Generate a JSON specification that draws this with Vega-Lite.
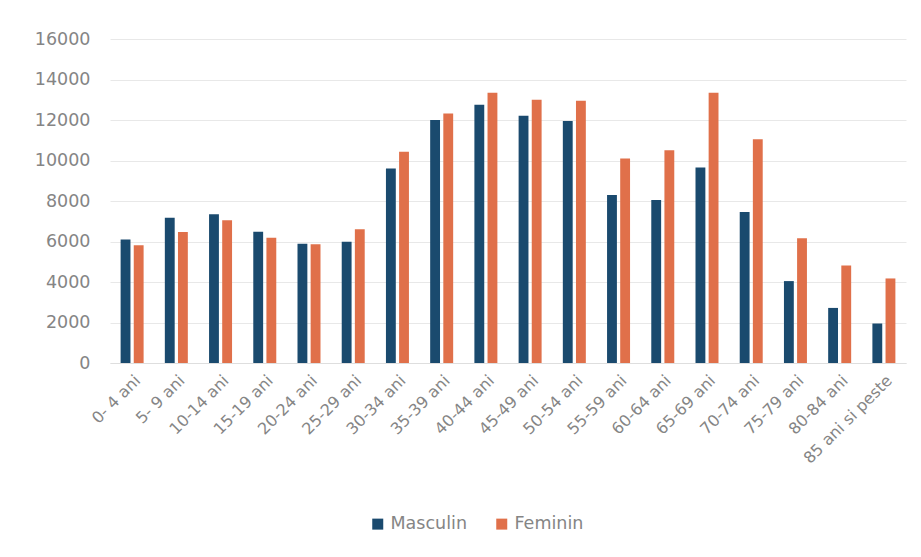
{
  "$schema": "https://vega.github.io/schema/vega-lite/v6.json",
  "autosize": "none",
  "width": 796,
  "height": 324,
  "padding": {"left": 110, "top": 39, "right": 15, "bottom": 194},
  "background": "white",
  "data": {
    "values": [
      {"grupa": "0- 4 ani", "sex": "Masculin", "valoare": 6100},
      {"grupa": "0- 4 ani", "sex": "Feminin", "valoare": 5820},
      {"grupa": "5- 9 ani", "sex": "Masculin", "valoare": 7170},
      {"grupa": "5- 9 ani", "sex": "Feminin", "valoare": 6470},
      {"grupa": "10-14 ani", "sex": "Masculin", "valoare": 7340},
      {"grupa": "10-14 ani", "sex": "Feminin", "valoare": 7045},
      {"grupa": "15-19 ani", "sex": "Masculin", "valoare": 6480},
      {"grupa": "15-19 ani", "sex": "Feminin", "valoare": 6190},
      {"grupa": "20-24 ani", "sex": "Masculin", "valoare": 5890},
      {"grupa": "20-24 ani", "sex": "Feminin", "valoare": 5860},
      {"grupa": "25-29 ani", "sex": "Masculin", "valoare": 5990},
      {"grupa": "25-29 ani", "sex": "Feminin", "valoare": 6600},
      {"grupa": "30-34 ani", "sex": "Masculin", "valoare": 9600},
      {"grupa": "30-34 ani", "sex": "Feminin", "valoare": 10430},
      {"grupa": "35-39 ani", "sex": "Masculin", "valoare": 11995},
      {"grupa": "35-39 ani", "sex": "Feminin", "valoare": 12320},
      {"grupa": "40-44 ani", "sex": "Masculin", "valoare": 12750},
      {"grupa": "40-44 ani", "sex": "Feminin", "valoare": 13345},
      {"grupa": "45-49 ani", "sex": "Masculin", "valoare": 12210},
      {"grupa": "45-49 ani", "sex": "Feminin", "valoare": 13000},
      {"grupa": "50-54 ani", "sex": "Masculin", "valoare": 11945},
      {"grupa": "50-54 ani", "sex": "Feminin", "valoare": 12950},
      {"grupa": "55-59 ani", "sex": "Masculin", "valoare": 8300},
      {"grupa": "55-59 ani", "sex": "Feminin", "valoare": 10095},
      {"grupa": "60-64 ani", "sex": "Masculin", "valoare": 8050},
      {"grupa": "60-64 ani", "sex": "Feminin", "valoare": 10510},
      {"grupa": "65-69 ani", "sex": "Masculin", "valoare": 9650},
      {"grupa": "65-69 ani", "sex": "Feminin", "valoare": 13345},
      {"grupa": "70-74 ani", "sex": "Masculin", "valoare": 7460},
      {"grupa": "70-74 ani", "sex": "Feminin", "valoare": 11055},
      {"grupa": "75-79 ani", "sex": "Masculin", "valoare": 4045},
      {"grupa": "75-79 ani", "sex": "Feminin", "valoare": 6155},
      {"grupa": "80-84 ani", "sex": "Masculin", "valoare": 2720},
      {"grupa": "80-84 ani", "sex": "Feminin", "valoare": 4820},
      {"grupa": "85 ani si peste", "sex": "Masculin", "valoare": 1950},
      {"grupa": "85 ani si peste", "sex": "Feminin", "valoare": 4175}
    ]
  },
  "mark": {"type": "bar"},
  "encoding": {
    "x": {
      "field": "grupa",
      "type": "nominal",
      "sort": null,
      "title": null,
      "scale": {"paddingInner": 0.48, "paddingOuter": 0.24},
      "axis": {
        "labelAngle": -45,
        "labelFont": "DejaVu Sans",
        "labelFontSize": 16,
        "labelColor": "#858585",
        "labelPadding": 9,
        "ticks": false,
        "domain": true,
        "domainColor": "#dedede",
        "grid": false
      }
    },
    "xOffset": {
      "field": "sex",
      "type": "nominal",
      "sort": ["Masculin", "Feminin"],
      "scale": {"paddingInner": 0.25}
    },
    "y": {
      "field": "valoare",
      "type": "quantitative",
      "title": null,
      "scale": {"domain": [0, 16000], "nice": false},
      "axis": {
        "values": [0, 2000, 4000, 6000, 8000, 10000, 12000, 14000, 16000],
        "format": "d",
        "labelFont": "DejaVu Sans",
        "labelFontSize": 17.5,
        "labelColor": "#858585",
        "labelPadding": 20,
        "ticks": false,
        "domain": false,
        "gridColor": "#e8e8e8",
        "gridWidth": 1
      }
    },
    "color": {
      "field": "sex",
      "type": "nominal",
      "sort": ["Masculin", "Feminin"],
      "scale": {"domain": ["Masculin", "Feminin"], "range": ["#1a4a6e", "#e0704a"]},
      "legend": {
        "title": null,
        "orient": "none",
        "direction": "horizontal",
        "legendX": 259,
        "legendY": 476,
        "symbolType": "square",
        "symbolSize": 121,
        "symbolStrokeWidth": 0,
        "labelFont": "DejaVu Sans",
        "labelFontSize": 17.5,
        "labelColor": "#858585",
        "labelOffset": 4,
        "columnPadding": 26
      }
    }
  },
  "config": {
    "view": {"stroke": null}
  }
}
